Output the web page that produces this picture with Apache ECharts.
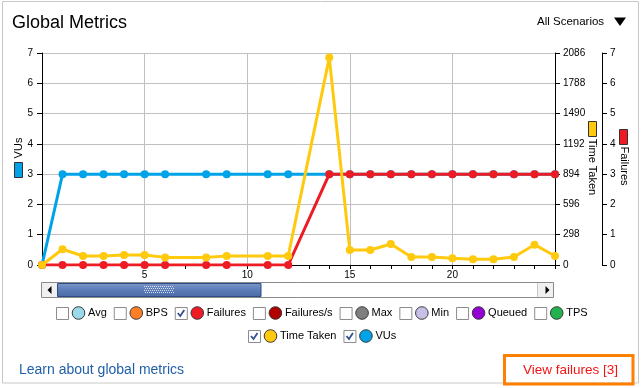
<!DOCTYPE html>
<html><head><meta charset="utf-8">
<script src="https://cdn.jsdelivr.net/npm/echarts@6/dist/echarts.min.js"></script>
<style>html,body{margin:0;padding:0;background:#fff}#c{width:641px;height:388px}</style>
</head><body><div id="c"></div>
<script>
// ---- data ----
const times = [0,1,2,3,4,5,6,8,9,11,12,14,15,16,17,18,19,20,21,22,23,24,25];
const vus = [0,3,3,3,3,3,3,3,3,3,3,3,3,3,3,3,3,3,3,3,3,3,3];
const failures = [0,0,0,0,0,0,0,0,0,0,0,3,3,3,3,3,3,3,3,3,3,3,3];
const timeTaken = [0,155,89,89,98,98,75,75,89,89,89,2041,147,147,206,78,78,66,57,57,78,200,89];
const xMax = 25, xStep = 5;
const countMax = 7, countStep = 1;
const timeMax = 2086, timeStep = 298;
const legendRow1 = ['Avg','BPS','Failures','Failures/s','Max','Min','Queued','TPS'];
const legendRow2 = ['Time Taken','VUs'];
const checkedItems = ['Failures','Time Taken','VUs'];
const metricColors = {
  'Avg':'#99d9ea','BPS':'#ff7f27','Failures':'#ed1c24','Failures/s':'#b00000',
  'Max':'#7f7f7f','Min':'#c8bfe7','Queued':'#9400d3','TPS':'#22b14c',
  'Time Taken':'#ffc90e','VUs':'#00a2e8'
};
const titleText = 'Global Metrics';
const scenarioText = 'All Scenarios';
const learnText = 'Learn about global metrics';
const failText = 'View failures [3]';

const FONT = '"Liberation Sans", Arial, sans-serif';
const pairs = (ys) => times.map((t,i)=>[t, ys[i]]);

const chart = echarts.init(document.getElementById('c'), null, {renderer:'canvas'});

// measure text for legend layout
const mctx = document.createElement('canvas').getContext('2d');
function tw(s, size){ mctx.font = size + 'px ' + FONT; return mctx.measureText(s).width; }

const LF = 11;
function legendRow(items, cy, cx){
  const widths = items.map(n => 12 + 4 + 13 + 3 + tw(n, LF));
  const total = widths.reduce((a,b)=>a+b,0) + 7*(items.length-1);
  let x = Math.round(cx - total/2);
  const els = [];
  items.forEach((n,i)=>{
    els.push({type:'rect', shape:{x:x+0.5,y:cy-6+0.5,width:12,height:12},
      style:{fill:'#fff',stroke:'#8c8c8c',lineWidth:1}});
    if (checkedItems.includes(n)) {
      els.push({type:'polyline', shape:{points:[[x+3,cy],[x+5.5,cy+3],[x+9.5,cy-3]]},
        style:{stroke:'#34508f',lineWidth:1.8,fill:null}});
    }
    els.push({type:'circle', shape:{cx:x+16+6.5, cy:cy, r:6.3},
      style:{fill:metricColors[n], stroke:'#3a3a3a', lineWidth:1}});
    els.push({type:'text', x:x+32, y:cy, style:{text:n, font:LF+'px '+FONT, fill:'#000',
      textAlign:'left', textVerticalAlign:'middle'}});
    x += widths[i] + 7;
  });
  return els;
}

const graphics = [];
// panel border
graphics.push({type:'rect', shape:{x:2.5,y:1.5,width:636,height:381.5},
  style:{fill:null,stroke:'#c8c8c8',lineWidth:1}, z:-1});
// title
graphics.push({type:'text', x:12, y:23, style:{text:titleText, font:'18px '+FONT, fill:'#000',
  textAlign:'left', textVerticalAlign:'middle'}});
graphics.push({type:'text', x:537, y:22, style:{text:scenarioText, font:'11.5px '+FONT, fill:'#000',
  textAlign:'left', textVerticalAlign:'middle'}});
graphics.push({type:'polygon', shape:{points:[[614,17.5],[626,17.5],[620,26]]}, style:{fill:'#000'}});

// axis names
function axisName(text, cx, cy, rot, rect, color){
  graphics.push({type:'text', x:cx, y:cy, rotation:rot, style:{text:text, font:'11px '+FONT,
    fill:'#000', textAlign:'center', textVerticalAlign:'middle'}});
  graphics.push({type:'rect', shape:{x:rect[0]+0.5,y:rect[1]+0.5,width:rect[2],height:rect[3]},
    style:{fill:color, stroke:'#333', lineWidth:1}});
}
axisName('VUs', 19, 148, Math.PI/2, [14,162,8,15], metricColors['VUs']);
axisName('Time Taken', 592, 167, -Math.PI/2, [588,121,8,15], metricColors['Time Taken']);
axisName('Failures', 624, 166, -Math.PI/2, [619,129,8,15], metricColors['Failures']);

// scrollbar
graphics.push({type:'rect', shape:{x:41.5,y:282.5,width:512,height:15},
  style:{fill:'#fff',stroke:'#8a8a8a',lineWidth:1}});
graphics.push({type:'rect', shape:{x:42,y:283,width:15,height:14}, style:{fill:'#f0f0f0'}});
graphics.push({type:'rect', shape:{x:538,y:283,width:15,height:14}, style:{fill:'#f0f0f0'}});
graphics.push({type:'line', shape:{x1:537.5,y1:283,x2:537.5,y2:297}, style:{stroke:'#c8c8c8',lineWidth:1}});
graphics.push({type:'polygon', shape:{points:[[47.5,290],[51.5,286],[51.5,294]]}, style:{fill:'#000'}});
graphics.push({type:'polygon', shape:{points:[[549.5,290],[545.5,286],[545.5,294]]}, style:{fill:'#000'}});
graphics.push({type:'rect', shape:{x:57.5,y:283.5,width:203.5,height:13},
  style:{fill:new echarts.graphic.LinearGradient(0,0,0,1,[
    {offset:0,color:'#7d98c9'},{offset:0.5,color:'#5b7cb6'},{offset:1,color:'#4a6aa6'}]),
    stroke:'#2d4b86',lineWidth:1}});
for (let gx=0; gx<30; gx+=2) for (let gy=0; gy<8; gy+=2) {
  graphics.push({type:'rect', shape:{x:144+gx+(gy%4?1:0), y:286+gy, width:1, height:1},
    style:{fill:'#d8e2f2'}});
}

// legend
graphics.push(...legendRow(legendRow1, 313, 322));
graphics.push(...legendRow(legendRow2, 336, 322));

// bottom
graphics.push({type:'text', x:19, y:370, style:{text:learnText, font:'14px '+FONT, fill:'#1f5fa8',
  textAlign:'left', textVerticalAlign:'middle'}});
graphics.push({type:'text', x:523, y:370, style:{text:failText, font:'13.5px '+FONT, fill:'#f41414',
  textAlign:'left', textVerticalAlign:'middle'}});
graphics.push({type:'rect', shape:{x:504.5,y:355.5,width:128.5,height:28.5},
  style:{fill:null,stroke:'#ff7f00',lineWidth:3}});

const plain = v => String(v);
const axisLabelStyle = {fontSize:10, color:'#000', fontFamily:FONT, formatter:plain};
const blackLine = {show:true, lineStyle:{color:'#000', width:1}};
const tick = {show:true, inside:false, length:5, lineStyle:{color:'#000'}};

const option = {
  animation:false,
  grid:{left:42, right:86, top:53, bottom:123, containLabel:false},
  xAxis:{type:'value', min:0, max:xMax, interval:xStep,
    axisLine:{show:true, onZero:false, lineStyle:{color:'#000'}},
    axisTick:{show:true, inside:false, length:4, lineStyle:{color:'#000'}},
    minorTick:{show:true, splitNumber:5, length:4, lineStyle:{color:'#000'}},
    axisLabel:Object.assign({showMinLabel:false, showMaxLabel:false, margin:5}, axisLabelStyle),
    splitLine:{show:true, lineStyle:{color:'#c0c0c0', width:1}}},
  yAxis:[
    {type:'value', min:0, max:countMax, interval:countStep, position:'left',
      axisLine:blackLine, axisTick:tick,
      axisLabel:Object.assign({margin:9}, axisLabelStyle),
      splitLine:{show:true, lineStyle:{color:'#c0c0c0', width:1}}},
    {type:'value', min:0, max:timeMax, interval:timeStep, position:'right',
      axisLine:blackLine, axisTick:tick,
      axisLabel:Object.assign({margin:8}, axisLabelStyle), splitLine:{show:false}},
    {type:'value', min:0, max:countMax, interval:countStep, position:'right', offset:47,
      axisLine:blackLine, axisTick:tick,
      axisLabel:Object.assign({margin:8}, axisLabelStyle), splitLine:{show:false}}
  ],
  series:[
    {name:'VUs', type:'line', yAxisIndex:0, data:pairs(vus), symbol:'circle', symbolSize:8,
      color:metricColors['VUs'], lineStyle:{width:3}, silent:true, z:2},
    {name:'Failures', type:'line', yAxisIndex:2, data:pairs(failures), symbol:'circle', symbolSize:8,
      color:metricColors['Failures'], lineStyle:{width:3}, silent:true, z:3},
    {name:'Time Taken', type:'line', yAxisIndex:1, data:pairs(timeTaken), symbol:'circle', symbolSize:8,
      color:metricColors['Time Taken'], lineStyle:{width:3}, silent:true, z:4}
  ],
  graphic:{elements:graphics}
};
chart.setOption(option);
</script></body></html>
